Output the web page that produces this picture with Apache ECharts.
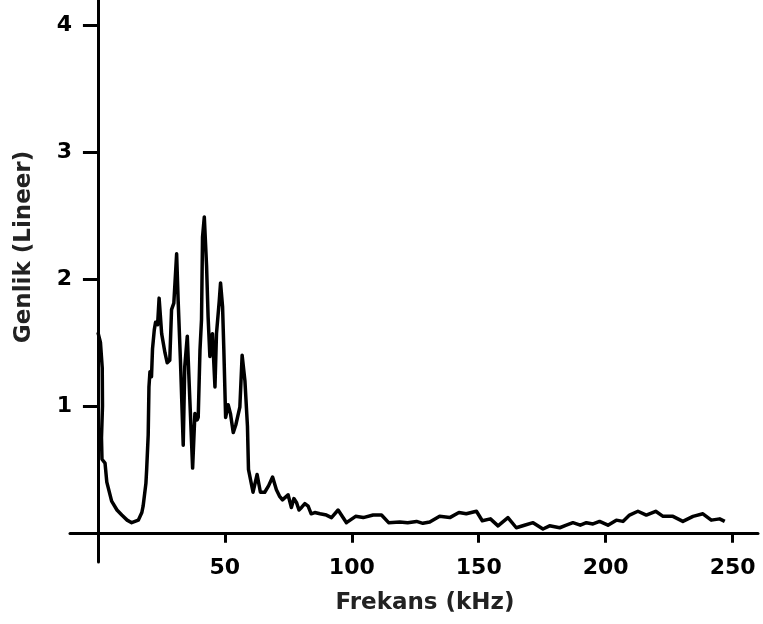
<!DOCTYPE html>
<html>
<head>
<meta charset="utf-8">
<script src="https://cdn.jsdelivr.net/npm/echarts@6/dist/echarts.min.js"></script>
<style>html,body{margin:0;padding:0;background:#fff}#c{width:763px;height:624px}</style>
</head>
<body>
<div id="c"></div>
<script>
var freq = [0,1,1.7,1.8,1.4,1.6,2.8,3.5,5.4,7.5,9.4,11.5,13.3,15.9,17.3,17.8,18.9,19.2,19.8,20.1,20.5,21.1,21.5,22.2,22.7,23.5,24.1,25.1,26.4,27.3,28.3,29,29.9,31,31.6,32.5,33.6,34.2,35.2,36.2,37.3,38.2,39.1,39.5,40.2,40.8,41.2,41.9,42.8,43.4,44.1,45.1,46.1,46.7,47.8,48.3,49.1,49.6,50.3,51.3,52.2,53.3,54.3,55.9,56.8,57.9,58.9,59.3,61.1,62.7,64,65.7,67.2,68.8,70.3,71.5,72.7,74.9,76.2,77.2,78.2,79.2,80.2,81.5,82.8,84,85.4,87.5,90,92,94.6,97.9,101.5,104.5,108.4,111.7,114.5,118.9,122,125.5,128,130.7,134.6,138.6,142.2,145.1,149.1,151.4,154.6,157.6,161.5,164.8,168,171.4,175.3,177.9,181.9,184.5,187.1,190,192.4,195,197.6,200.9,204.2,206.8,209.4,212.7,216,219.7,222.6,226.5,230.4,234.4,238.3,241.6,244.9,246.9];
var amplitude = [1.58,1.5,1.3,1.0,0.75,0.58,0.55,0.4,0.25,0.18,0.14,0.1,0.08,0.1,0.16,0.21,0.39,0.5,0.77,1.15,1.27,1.23,1.45,1.6,1.66,1.64,1.85,1.57,1.42,1.34,1.36,1.76,1.81,2.2,1.83,1.36,0.69,1.31,1.55,1.05,0.51,0.94,0.89,0.91,1.44,1.68,2.33,2.49,2.1,1.7,1.39,1.57,1.15,1.57,1.83,1.97,1.78,1.44,0.91,1.01,0.94,0.79,0.85,0.99,1.4,1.2,0.84,0.5,0.32,0.46,0.32,0.32,0.37,0.44,0.34,0.29,0.26,0.3,0.2,0.27,0.24,0.18,0.2,0.23,0.21,0.15,0.16,0.15,0.14,0.12,0.18,0.08,0.13,0.12,0.14,0.14,0.08,0.085,0.08,0.09,0.075,0.085,0.13,0.12,0.16,0.15,0.17,0.095,0.11,0.055,0.12,0.04,0.06,0.08,0.03,0.055,0.04,0.06,0.08,0.06,0.08,0.07,0.09,0.06,0.1,0.09,0.14,0.17,0.14,0.17,0.13,0.13,0.09,0.13,0.15,0.1,0.11,0.09];
var xTicks = [50,100,150,200,250];
var yTicks = [1,2,3,4];
var xName = 'Frekans (kHz)';
var yName = 'Genlik (Lineer)';

var data = freq.map(function(f,i){return [f, amplitude[i]];});
var chart = echarts.init(document.getElementById('c'), null, {renderer:'canvas'});
var labelFont = {color:'#000', fontFamily:'DejaVu Sans', fontWeight:'bold', fontSize:22};
var nameFont = {color:'#222', fontFamily:'DejaVu Sans', fontWeight:'bold', fontSize:23};
chart.setOption({
  animation:false,
  backgroundColor:'#fff',
  grid:{left:70, top:0, width:688, height:562, containLabel:false, outerBoundsMode:'none'},
  xAxis:{
    type:'value', min:-11, max:260,
    axisLine:{show:true, onZero:true, lineStyle:{color:'#000', width:3}},
    axisTick:{show:true, customValues:xTicks, length:10, lineStyle:{color:'#000', width:3}},
    axisLabel:Object.assign({customValues:xTicks, margin:-5}, labelFont),
    splitLine:{show:false},
    name:xName, nameLocation:'middle', nameGap:30,
    nameTextStyle:Object.assign({padding:[0,0,0,22]}, nameFont)
  },
  yAxis:{
    type:'value', min:-0.23, max:4.2,
    axisLine:{show:true, onZero:true, lineStyle:{color:'#000', width:3}},
    axisTick:{show:true, customValues:yTicks, length:15, lineStyle:{color:'#000', width:3}},
    axisLabel:Object.assign({customValues:yTicks, margin:-2}, labelFont),
    splitLine:{show:false},
    name:yName, nameLocation:'middle', nameGap:34, nameRotate:90,
    nameTextStyle:Object.assign({padding:[0,0,0,68]}, nameFont)
  },
  series:[{
    type:'line', data:data, showSymbol:false, smooth:false,
    lineStyle:{color:'#000', width:3.5, join:'round'}
  }]
});
</script>
</body>
</html>
